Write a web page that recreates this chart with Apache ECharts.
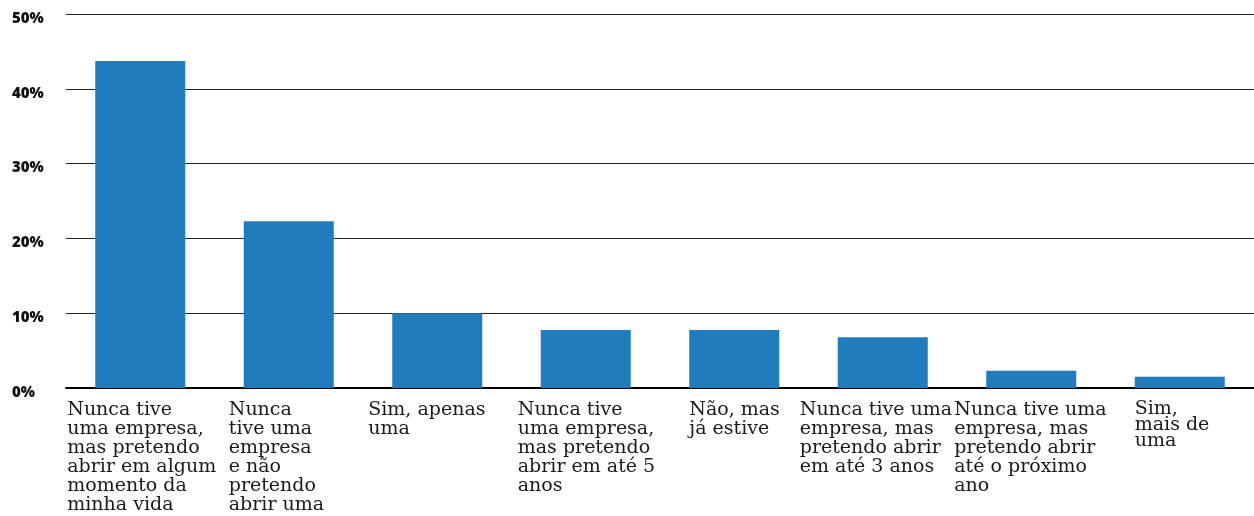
<!DOCTYPE html>
<html>
<head>
<meta charset="utf-8">
<script src="https://cdn.jsdelivr.net/npm/echarts@6/dist/echarts.min.js"></script>
<style>
  html, body { margin: 0; padding: 0; background: #fff; }
  #chart { width: 1254px; height: 516px; }
</style>
</head>
<body>
<div id="chart"></div>
<script>
// respostas (quebras de linha como no original)
var categories = [
  'Nunca tive\numa empresa,\nmas pretendo\nabrir em algum\nmomento da\nminha vida',
  'Nunca\ntive uma\nempresa\ne não\npretendo\nabrir uma',
  'Sim, apenas\numa',
  'Nunca tive\numa empresa,\nmas pretendo\nabrir em até 5\nanos',
  'Não, mas\njá estive',
  'Nunca tive uma\nempresa, mas\npretendo abrir\nem até 3 anos',
  'Nunca tive uma\nempresa, mas\npretendo abrir\naté o próximo\nano',
  'Sim,\nmais de\numa'
];
// percentuais
var values = [43.7, 22.3, 10.0, 7.75, 7.75, 6.8, 2.3, 1.5];
var yTicks = [0, 10, 20, 30, 40, 50];

// quanto cada rótulo começa à esquerda da barra (px)
var labelLead = [28, 15, 24, 23, 0, 38, 32, 0];
var barW = 90;

var rich = {};
labelLead.forEach(function (d, i) {
  rich['r' + i] = {
    width: 2 * (barW / 2 + d),
    align: 'left',
    fontFamily: 'DejaVu Serif',
    fontSize: 19,
    lineHeight: i === 7 ? 16 : 19,
    color: '#1a1a1a'
  };
});

var myChart = echarts.init(document.getElementById('chart'));
myChart.setOption({
  animation: false,
  backgroundColor: '#ffffff',
  grid: {
    left: 66,
    right: -8,
    top: 14,
    bottom: 128 // 0% fica em y=388
  },
  xAxis: {
    type: 'category',
    data: categories,
    axisTick: { show: false },
    axisLine: { lineStyle: { color: '#000', width: 2 } },
    axisLabel: {
      interval: 0,
      align: 'center',
      verticalAlign: 'top',
      margin: 13,
      formatter: function (v, i) {
        return v.split('\n').map(function (l) { return '{r' + i + '|' + l + '}'; }).join('\n');
      },
      rich: rich
    }
  },
  yAxis: {
    type: 'value',
    min: yTicks[0],
    max: yTicks[yTicks.length - 1],
    interval: 10,
    axisLine: { show: false },
    axisTick: { show: false },
    splitLine: { lineStyle: { color: '#222', width: 1 } },
    axisLabel: {
      align: 'left',
      verticalAlign: 'top',
      lineHeight: 9,
      margin: 54,
      fontFamily: 'Open Sans',
      fontWeight: 800,
      fontSize: 15,
      color: '#111',
      formatter: '{value}%'
    }
  },
  series: [{
    type: 'bar',
    data: values,
    barWidth: barW,
    itemStyle: { color: '#217cbe' }
  }]
});
</script>
</body>
</html>
